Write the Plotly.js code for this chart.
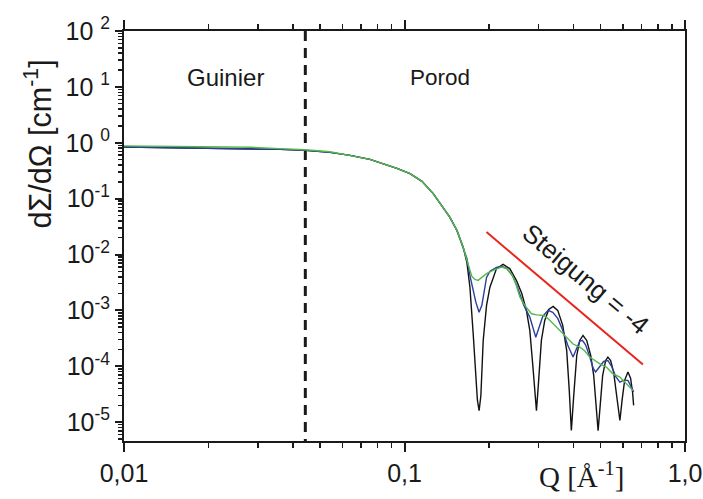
<!DOCTYPE html>
<html><head><meta charset="utf-8">
<script src="https://cdn.plot.ly/plotly-3.0.1.min.js"></script>
<style>html,body{margin:0;padding:0;background:#fff}</style>
</head><body><div id="chart" style="width:703px;height:499px"></div>
<script>
// ---- data ----
const qCommon = [0.0100, 0.01525, 0.0203, 0.0282, 0.036, 0.0443, 0.0543, 0.064, 0.0753, 0.0841, 0.094, 0.1046, 0.1154, 0.1266, 0.1337, 0.1452, 0.1538, 0.162];
const iCommon = [0.838, 0.818, 0.80, 0.785, 0.762, 0.73, 0.673, 0.596, 0.505, 0.42, 0.348, 0.28, 0.204, 0.123, 0.082, 0.0462, 0.027, 0.0134];

const qBlackTail = [0.1669, 0.1711, 0.1757, 0.1797, 0.1819, 0.1845, 0.1872, 0.1908, 0.1961, 0.2016, 0.2128, 0.2246, 0.2373, 0.251, 0.2619, 0.272, 0.2797, 0.287, 0.2913, 0.2954, 0.2999, 0.3076, 0.3162, 0.3268, 0.3387, 0.3518, 0.3665, 0.3787, 0.3867, 0.3934, 0.4012, 0.4112, 0.4214, 0.433, 0.4463, 0.4611, 0.4726, 0.4824, 0.49, 0.4985, 0.5087, 0.5213, 0.531, 0.5431, 0.5568, 0.5705, 0.586, 0.5968, 0.6092, 0.626, 0.6397, 0.6504, 0.656];
const iBlackTail = [7.2e-3, 2.6e-3, 3.9e-4, 7.4e-5, 2.5e-5, 1.6e-5, 3.0e-5, 2.9e-4, 1.23e-3, 2.6e-3, 5.6e-3, 6.65e-3, 5.6e-3, 3.4e-3, 2.0e-3, 1.0e-3, 4.4e-4, 9.7e-5, 3.7e-5, 1.6e-5, 4.5e-5, 2.9e-4, 6.6e-4, 1.04e-3, 1.18e-3, 1.0e-3, 5.4e-4, 1.9e-4, 3.7e-5, 7.1e-6, 3.0e-5, 1.56e-4, 2.9e-4, 3.56e-4, 2.9e-4, 1.56e-4, 6.9e-5, 2.0e-5, 7.0e-6, 2.0e-5, 6.9e-5, 1.27e-4, 1.46e-4, 1.27e-4, 7.8e-5, 3.0e-5, 1.07e-5, 2.5e-5, 5.6e-5, 7.9e-5, 6.1e-5, 3.4e-5, 2.0e-5];

const qBlueTail = [0.1669, 0.1711, 0.1757, 0.1797, 0.1845, 0.1887, 0.1961, 0.2016, 0.2128, 0.2217, 0.2316, 0.2433, 0.2535, 0.2663, 0.2797, 0.287, 0.2938, 0.3011, 0.3111, 0.3249, 0.3377, 0.3518, 0.3665, 0.3818, 0.399, 0.4112, 0.4214, 0.4308, 0.4426, 0.4572, 0.4707, 0.48, 0.4963, 0.5129, 0.531, 0.5474, 0.5657, 0.586, 0.6041, 0.626, 0.6397, 0.656];
const iBlueTail = [8.5e-3, 4.2e-3, 2.28e-3, 1.39e-3, 9.3e-4, 1.23e-3, 3.9e-3, 5.0e-3, 5.9e-3, 6.2e-3, 5.6e-3, 4.1e-3, 2.5e-3, 1.23e-3, 7.6e-4, 4.8e-4, 3.3e-4, 4.8e-4, 7.8e-4, 1.0e-3, 9.2e-4, 7.2e-4, 4.4e-4, 2.4e-4, 1.46e-4, 2.1e-4, 2.8e-4, 2.9e-4, 2.4e-4, 1.5e-4, 9.2e-5, 7.9e-5, 1.0e-4, 1.22e-4, 1.27e-4, 1.0e-4, 6.6e-5, 5.2e-5, 5.6e-5, 5.6e-5, 4.5e-5, 3.5e-5];

const qGreen = [0.0100, 0.01525, 0.0203, 0.0282, 0.036, 0.0443, 0.0543, 0.064, 0.0753, 0.0841, 0.094, 0.1046, 0.1154, 0.1266, 0.1337, 0.1452, 0.1538, 0.162, 0.1669, 0.1711, 0.1739, 0.1782, 0.183, 0.1887, 0.1966, 0.207, 0.2217, 0.2316, 0.2413, 0.2494, 0.2577, 0.2684, 0.2836, 0.2962, 0.3134, 0.3242, 0.348, 0.3725, 0.399, 0.4214, 0.4388, 0.4572, 0.4803, 0.5004, 0.5245, 0.5521, 0.586, 0.6092, 0.6295, 0.652];
const iGreen = [0.88, 0.86, 0.85, 0.83, 0.785, 0.75, 0.69, 0.596, 0.505, 0.42, 0.348, 0.28, 0.204, 0.123, 0.082, 0.0462, 0.027, 0.0134, 7.9e-3, 5.2e-3, 4.06e-3, 3.6e-3, 3.44e-3, 3.9e-3, 4.6e-3, 5.2e-3, 5.96e-3, 5.6e-3, 4.4e-3, 3.0e-3, 1.73e-3, 1.23e-3, 8.7e-4, 8.3e-4, 8.1e-4, 7.2e-4, 5.0e-4, 3.56e-4, 2.5e-4, 2.2e-4, 1.9e-4, 1.46e-4, 1.22e-4, 1.08e-4, 9.7e-5, 7.4e-5, 6.4e-5, 5.2e-5, 4.5e-5, 3.7e-5];

const boundaryQ = 0.0443;               // Guinier / Porod boundary
const slopeQ = [0.196, 0.708];          // "Steigung = -4" guide line
const slopeI = [0.0252, 1.08e-4];

const xTickVals = [0.01, 0.1, 1];
const xTickText = ['0,01', '0,1', '1,0'];
const yTickVals = [1e-5, 1e-4, 1e-3, 1e-2, 1e-1, 1e0, 1e1, 1e2];
const yTickText = ['10<sup>-5</sup>', '10<sup>-4</sup>', '10<sup>-3</sup>', '10<sup>-2</sup>', '10<sup>-1</sup>', '10\u00a0<sup>0</sup>', '10\u00a0<sup>1</sup>', '10\u00a0<sup>2</sup>'];
const yMin = 4.6e-6, yMax = 100;

function minorVals(d0, d1) {
  const out = [];
  for (let d = d0; d < d1; d++) for (let k = 2; k <= 9; k++) out.push(k * Math.pow(10, d));
  return out;
}

const qBlack = qCommon.concat(qBlackTail), iBlack = iCommon.concat(iBlackTail);
const qBlue = qCommon.concat(qBlueTail), iBlue = iCommon.concat(iBlueTail);

const ink = '#1a1a1a';
const sans = 'Liberation Sans, Arial, sans-serif';

const traces = [
  {x: slopeQ, y: slopeI, mode: 'lines', line: {color: '#e8251c', width: 2}, hoverinfo: 'skip'},
  {x: [boundaryQ, boundaryQ], y: [yMax, yMin], mode: 'lines', line: {color: ink, width: 3, dash: '10px,7px'}, hoverinfo: 'skip'},
  {x: qBlack, y: iBlack, mode: 'lines', line: {color: '#111111', width: 1.4}},
  {x: qBlue, y: iBlue, mode: 'lines', line: {color: '#2b3f9c', width: 1.4}},
  {x: qGreen, y: iGreen, mode: 'lines', line: {color: '#55b947', width: 1.4}}
];

const axisCommon = {
  type: 'log', showgrid: false, zeroline: false, showline: true, linewidth: 2, linecolor: ink,
  ticks: 'outside', tickwidth: 2, tickcolor: ink, tickmode: 'array',
  tickfont: {family: sans, size: 25, color: ink}
};

const layout = {
  width: 703, height: 499,
  margin: {l: 124, r: 18, t: 31, b: 58},
  paper_bgcolor: '#ffffff', plot_bgcolor: '#ffffff',
  showlegend: false,
  xaxis: Object.assign({}, axisCommon, {
    range: [-2, 0], tickvals: xTickVals, ticktext: xTickText, ticklen: 9, mirror: 'ticks',
    minor: {tickmode: 'array', tickvals: minorVals(-2, 0), ticks: 'outside', ticklen: 5, tickwidth: 1.5, tickcolor: ink, showgrid: false}
  }),
  yaxis: Object.assign({}, axisCommon, {
    range: [Math.log10(yMin), Math.log10(yMax)], tickvals: yTickVals, ticktext: yTickText, ticklen: 7, mirror: true,
    minor: {tickmode: 'array', tickvals: minorVals(-6, 2).filter(v => v >= yMin), ticks: 'outside', ticklen: 4, tickwidth: 1.5, tickcolor: ink, showgrid: false}
  }),
  annotations: [
    {xref: 'paper', yref: 'paper', x: -0.152, y: 0.725, text: 'dΣ/dΩ [cm<sup>-1</sup>]', textangle: -90, showarrow: false,
     xanchor: 'center', yanchor: 'middle', font: {family: sans, size: 30.5, color: ink}},
    {xref: 'paper', yref: 'paper', x: 0.815, y: -0.083, text: 'Q [Å<sup>-1</sup>]', showarrow: false,
     xanchor: 'center', yanchor: 'middle', font: {family: 'Liberation Serif, Times New Roman, serif', size: 29, color: ink}},
    {xref: 'x', yref: 'y', x: -1.637, y: 1.171, text: 'Guinier', showarrow: false,
     xanchor: 'center', yanchor: 'middle', font: {family: sans, size: 24, color: ink}},
    {xref: 'x', yref: 'y', x: -0.874, y: 1.171, text: 'Porod', showarrow: false,
     xanchor: 'center', yanchor: 'middle', font: {family: sans, size: 22.5, color: ink}},
    {xref: 'x', yref: 'y', x: -0.354, y: -2.44, text: 'Steigung = -4', textangle: 40, showarrow: false,
     xanchor: 'center', yanchor: 'middle', font: {family: sans, size: 26, color: ink}}
  ]
};

Plotly.newPlot('chart', traces, layout, {staticPlot: true, displayModeBar: false});
</script>
</body></html>
